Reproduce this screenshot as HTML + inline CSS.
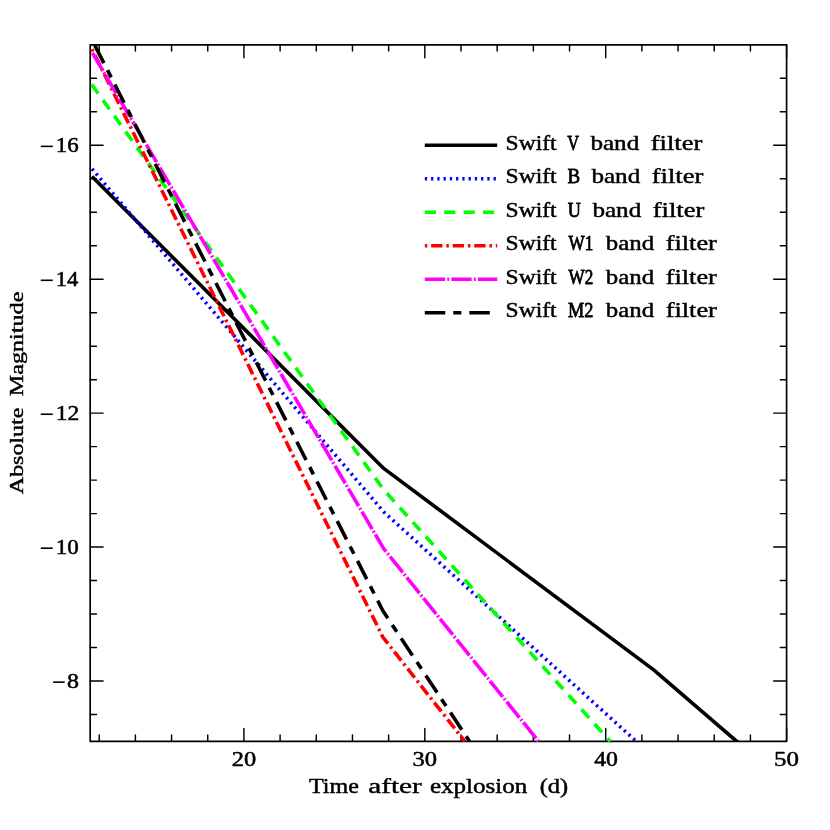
<!DOCTYPE html>
<html><head><meta charset="utf-8"><title>Swift light curves</title>
<style>
html,body{margin:0;padding:0;background:#fff;}
body{width:830px;height:830px;overflow:hidden;font-family:"Liberation Serif",serif;}
svg{display:block;will-change:transform;}
.t{font-family:"Liberation Serif",serif;fill:#000;stroke:#000;stroke-width:0.5px;stroke-linejoin:round;vector-effect:non-scaling-stroke;}
.c{stroke-width:0.75px;}
.n{font-family:"Liberation Serif",serif;fill:#000;stroke:#000;stroke-width:0.55px;stroke-linejoin:round;vector-effect:non-scaling-stroke;}
</style></head><body>
<svg width="830" height="830" viewBox="0 0 830 830">
<rect width="830" height="830" fill="#fff"/>
<defs><clipPath id="c"><rect x="89.37" y="44.00" width="698.03" height="698.10"/></clipPath></defs>
<line x1="424.8" y1="145.3" x2="497.2" y2="145.3" stroke="#000000" stroke-width="3.60"/>
<text class="t" transform="translate(505.62 149.86) scale(1.1475 1)" font-size="20.5">Swift</text>
<text class="t c" transform="translate(567.20 149.86) scale(0.8000 1)" font-size="20.5">V</text>
<text class="t" transform="translate(590.40 149.86) scale(1.2265 1)" font-size="20.5">band</text>
<text class="t" transform="translate(650.69 149.86) scale(1.2949 1)" font-size="20.5">filter</text>
<line x1="424.8" y1="178.7" x2="497.2" y2="178.7" stroke="#0000ff" stroke-width="3.60" stroke-dasharray="2.3 3.95"/>
<text class="t" transform="translate(505.62 183.34) scale(1.1475 1)" font-size="20.5">Swift</text>
<text class="t c" transform="translate(567.52 183.34) scale(0.9250 1)" font-size="20.5">B</text>
<text class="t" transform="translate(591.40 183.34) scale(1.2265 1)" font-size="20.5">band</text>
<text class="t" transform="translate(651.69 183.34) scale(1.2949 1)" font-size="20.5">filter</text>
<line x1="424.8" y1="212.2" x2="497.2" y2="212.2" stroke="#00ff00" stroke-width="3.60" stroke-dasharray="11.2 8.2"/>
<text class="t" transform="translate(505.62 216.83) scale(1.1475 1)" font-size="20.5">Swift</text>
<text class="t c" transform="translate(567.77 216.83) scale(0.8857 1)" font-size="20.5">U</text>
<text class="t" transform="translate(592.40 216.83) scale(1.2265 1)" font-size="20.5">band</text>
<text class="t" transform="translate(652.69 216.83) scale(1.2949 1)" font-size="20.5">filter</text>
<line x1="424.8" y1="245.7" x2="497.2" y2="245.7" stroke="#ff0000" stroke-width="3.60" stroke-dasharray="2.5 3.85 11.35 3.85"/>
<text class="t" transform="translate(505.62 250.31) scale(1.1475 1)" font-size="20.5">Swift</text>
<text class="t c" transform="translate(568.50 250.31) scale(0.8388 1)" font-size="20.5">W1</text>
<text class="t" transform="translate(605.80 250.31) scale(1.2114 1)" font-size="20.5">band</text>
<text class="t" transform="translate(665.70 250.31) scale(1.2846 1)" font-size="20.5">filter</text>
<line x1="424.8" y1="279.2" x2="497.2" y2="279.2" stroke="#ff00ff" stroke-width="3.60" stroke-dasharray="20.3 2.2 1.8 2.3"/>
<text class="t" transform="translate(505.62 283.80) scale(1.1475 1)" font-size="20.5">Swift</text>
<text class="t c" transform="translate(568.50 283.80) scale(0.8351 1)" font-size="20.5">W2</text>
<text class="t" transform="translate(605.80 283.80) scale(1.2114 1)" font-size="20.5">band</text>
<text class="t" transform="translate(665.70 283.80) scale(1.2846 1)" font-size="20.5">filter</text>
<line x1="424.8" y1="312.7" x2="497.2" y2="312.7" stroke="#000000" stroke-width="3.60" stroke-dasharray="20.45 8.0 8.1 8.0"/>
<text class="t" transform="translate(505.62 317.28) scale(1.1475 1)" font-size="20.5">Swift</text>
<text class="t c" transform="translate(567.94 317.28) scale(0.8897 1)" font-size="20.5">M2</text>
<text class="t" transform="translate(605.80 317.28) scale(1.2114 1)" font-size="20.5">band</text>
<text class="t" transform="translate(665.70 317.28) scale(1.2846 1)" font-size="20.5">filter</text>
<rect x="90.17" y="44.80" width="696.43" height="696.50" fill="none" stroke="#000" stroke-width="1.65" stroke-linejoin="round"/>
<path d="M99.21 741.30v-6.30M99.21 44.80v6.30M135.39 741.30v-6.30M135.39 44.80v6.30M171.57 741.30v-6.30M171.57 44.80v6.30M207.75 741.30v-6.30M207.75 44.80v6.30M243.93 741.30v-12.90M243.93 44.80v12.90M280.11 741.30v-6.30M280.11 44.80v6.30M316.28 741.30v-6.30M316.28 44.80v6.30M352.46 741.30v-6.30M352.46 44.80v6.30M388.64 741.30v-6.30M388.64 44.80v6.30M424.82 741.30v-12.90M424.82 44.80v12.90M461.00 741.30v-6.30M461.00 44.80v6.30M497.17 741.30v-6.30M497.17 44.80v6.30M533.35 741.30v-6.30M533.35 44.80v6.30M569.53 741.30v-6.30M569.53 44.80v6.30M605.71 741.30v-12.90M605.71 44.80v12.90M641.89 741.30v-6.30M641.89 44.80v6.30M678.07 741.30v-6.30M678.07 44.80v6.30M714.24 741.30v-6.30M714.24 44.80v6.30M750.42 741.30v-6.30M750.42 44.80v6.30M786.60 741.30v-12.90M786.60 44.80v12.90M90.17 78.29h6.30M786.60 78.29h-6.30M90.17 111.77h6.30M786.60 111.77h-6.30M90.17 145.26h12.90M786.60 145.26h-12.90M90.17 178.74h6.30M786.60 178.74h-6.30M90.17 212.23h6.30M786.60 212.23h-6.30M90.17 245.71h6.30M786.60 245.71h-6.30M90.17 279.20h12.90M786.60 279.20h-12.90M90.17 312.68h6.30M786.60 312.68h-6.30M90.17 346.17h6.30M786.60 346.17h-6.30M90.17 379.66h6.30M786.60 379.66h-6.30M90.17 413.14h12.90M786.60 413.14h-12.90M90.17 446.63h6.30M786.60 446.63h-6.30M90.17 480.11h6.30M786.60 480.11h-6.30M90.17 513.60h6.30M786.60 513.60h-6.30M90.17 547.08h12.90M786.60 547.08h-12.90M90.17 580.57h6.30M786.60 580.57h-6.30M90.17 614.05h6.30M786.60 614.05h-6.30M90.17 647.54h6.30M786.60 647.54h-6.30M90.17 681.03h12.90M786.60 681.03h-12.90M90.17 714.51h6.30M786.60 714.51h-6.30" stroke="#000" stroke-width="1.45" stroke-linecap="round" fill="none"/>
<g clip-path="url(#c)" fill="none" stroke-width="3.60" stroke-linejoin="round">
<path d="M92.0 176.5 L383.7 468.4 L653.4 669.6 L736.5 741.2 L744.6 748.2" stroke="#000000"/>
<path d="M92.0 168.8 L383.8 512.0 L636.2 741.3" stroke="#0000ff" stroke-dasharray="2.3 3.95" stroke-dashoffset="0"/>
<path d="M91.6 84.4 L383.7 489.8 L610.2 741.3" stroke="#00ff00" stroke-dasharray="11.2 8.2" stroke-dashoffset="0"/>
<path d="M92.0 49.3 L383.0 637.4 L464.8 741.3" stroke="#ff0000" stroke-dasharray="2.5 3.85 11.35 3.85" stroke-dashoffset="0"/>
<path d="M92.4 52.9 L383.7 548.7 L538.5 741.3" stroke="#ff00ff" stroke-dasharray="20.3 2.2 1.8 2.3" stroke-dashoffset="0"/>
<path d="M91.0 37.8 L383.0 611.0 L469.5 741.3" stroke="#000000" stroke-dasharray="20.45 8.0 8.1 8.0" stroke-dashoffset="-7.9"/>
</g>
<text class="n" transform="translate(231.78 766.00) scale(1.1921 1)" font-size="20.5">20</text>
<text class="n" transform="translate(412.52 766.00) scale(1.2000 1)" font-size="20.5">30</text>
<text class="n" transform="translate(594.17 766.00) scale(1.1613 1)" font-size="20.5">40</text>
<text class="n" transform="translate(773.98 766.00) scale(1.2162 1)" font-size="20.5">50</text>
<line x1="40.8" y1="146.36" x2="52.8" y2="146.36" stroke="#000" stroke-width="1.6"/>
<text class="n" transform="translate(55.75 152.36) scale(1.1145 1)" font-size="20.5">16</text>
<line x1="40.8" y1="280.30" x2="52.8" y2="280.30" stroke="#000" stroke-width="1.6"/>
<text class="n" transform="translate(55.78 286.30) scale(1.0993 1)" font-size="20.5">14</text>
<line x1="40.8" y1="414.24" x2="52.8" y2="414.24" stroke="#000" stroke-width="1.6"/>
<text class="n" transform="translate(55.69 420.24) scale(1.1461 1)" font-size="20.5">12</text>
<line x1="40.8" y1="548.18" x2="52.8" y2="548.18" stroke="#000" stroke-width="1.6"/>
<text class="n" transform="translate(55.74 554.18) scale(1.1222 1)" font-size="20.5">10</text>
<line x1="53.1" y1="682.13" x2="64.7" y2="682.13" stroke="#000" stroke-width="1.6"/>
<text class="n" transform="translate(66.93 688.13) scale(1.1657 1)" font-size="20.5">8</text>
<text class="t" transform="translate(309.06 792.50) scale(1.1711 1)" font-size="20.5">Time</text>
<text class="t" transform="translate(368.13 792.50) scale(1.4307 1)" font-size="20.5">after</text>
<text class="t" transform="translate(429.88 792.50) scale(1.2210 1)" font-size="20.5">explosion</text>
<text class="t" transform="translate(539.66 792.50) scale(1.1887 1)" font-size="20.5">(d)</text>
<text class="t" transform="translate(22.90 494.16) rotate(-90) scale(1.2611 1)" font-size="19">Absolute</text>
<text class="t" transform="translate(22.90 396.13) rotate(-90) scale(1.2696 1)" font-size="19">Magnitude</text>
</svg>
</body></html>
